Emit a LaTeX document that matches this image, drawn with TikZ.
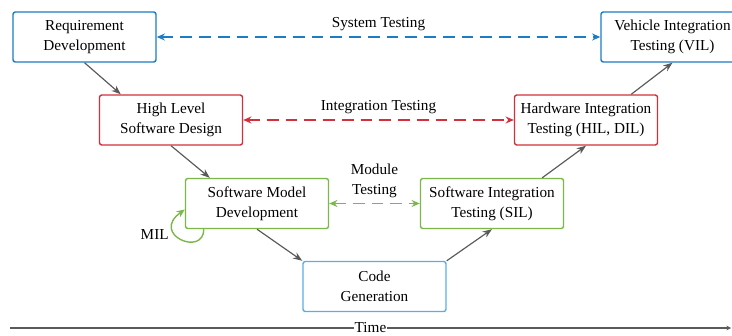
\documentclass[tikz,border=0pt]{standalone}
\usepackage{fontspec}
\setmainfont{Liberation Serif}
\usetikzlibrary{arrows.meta,positioning,calc}
\definecolor{sysblue}{HTML}{1C7CC4}
\definecolor{codeblue}{HTML}{5AAEE8}
\definecolor{intred}{HTML}{D2303C}
\definecolor{modgreen}{HTML}{7AB84A}
\definecolor{flowgray}{HTML}{5A5A5A}

\begin{document}
\begin{tikzpicture}[x=0.03cm, y=-0.03cm, font=\fontsize{13}{17}\selectfont,
    stage/.style={draw, line width=1.2pt, rounded corners=2pt, align=center,
      minimum width=4.29cm, minimum height=1.5cm, fill=white},
    flow/.style={-{Stealth[length=8pt,width=6pt]}, flowgray, line width=1pt},
    test/.style={{Stealth[length=7pt,width=6pt]}-{Stealth[length=7pt,width=6pt]},
      line width=1.2pt, dash pattern=on 10pt off 6pt}]
\useasboundingbox (0,0) rectangle (732,335);

% left branch of the V
\node[stage, draw=sysblue] (req) at (84.5,37) {Requirement\\Development};
\node[stage, draw=intred] (hlsd) at (171,120) {High Level\\Software Design};
\node[stage, draw=modgreen] (smd) at (257,203.5) {Software Model\\Development};
\node[stage, draw=codeblue] (code) at (374.5,286.5) {Code\\Generation};
% right branch of the V
\node[stage, draw=modgreen] (sit) at (492,203.5) {Software Integration\\Testing (SIL)};
\node[stage, draw=intred] (hit) at (586,120) {Hardware Integration\\Testing (HIL, DIL)};
\node[stage, draw=sysblue] (vil) at (672.5,37) {Vehicle Integration\\Testing (VIL)};

\draw[flow] (req.south) -- ($(hlsd.north west)+(22,0)$);
\draw[flow] (hlsd.south) -- ($(smd.north west)+(25,0)$);
\draw[flow] (smd.south) -- (code.north west);
\draw[flow] (code.north east) -- (sit.south);
\draw[flow] ($(sit.north east)+(-22,0)$) -- (hit.south);
\draw[flow] ($(hit.north east)+(-27,0)$) -- (vil.south);

% test levels
\draw[test, sysblue] (req) -- node[above=1pt, text=black] {System Testing} (vil);
\draw[test, intred] (hlsd) -- node[above=1pt, text=black] {Integration Testing} (hit);
\draw[test, modgreen] (smd) -- node[above=1pt, text=black, align=center] {Module\\Testing} (sit);

% model in the loop
\draw[-{Stealth[length=7pt,width=6pt]}, modgreen, line width=1.2pt]
  ($(smd.south west)+(19,0)$) .. controls +(0,28) and +(-35,25) .. ($(smd.west)+(0,6)$)
  node[pos=0.62, left=2pt, text=black] {MIL};

% time axis
\coordinate (t0) at (10,328);
\coordinate (t1) at (731,328);
\draw[-{Stealth[length=4pt,width=4pt]}, flowgray, line width=1.2pt] (t0) -- node[fill=white, inner sep=1pt, text=black] {Time} (t1);
\end{tikzpicture}
\end{document}
